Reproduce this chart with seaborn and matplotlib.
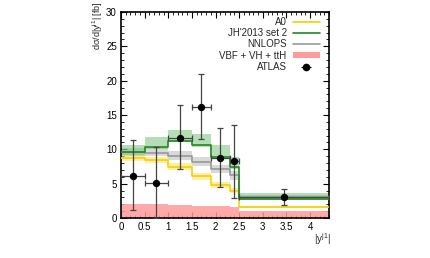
import numpy as np
import pandas as pd
import matplotlib
matplotlib.use("Agg")
import matplotlib.pyplot as plt
import seaborn as sns
from matplotlib.ticker import MultipleLocator, FuncFormatter
from matplotlib.lines import Line2D
from matplotlib.patches import Patch

# ---- data ----
edges = [0.0, 0.5, 1.0, 1.5, 1.9, 2.3, 2.5, 4.4]

a0 = [8.8, 8.4, 7.4, 6.1, 4.8, 4.0, 1.6]
a0_lo = [8.3, 8.0, 7.0, 5.6, 4.4, 3.6, 1.5]
a0_hi = [9.3, 8.9, 8.0, 6.6, 5.3, 4.4, 1.7]

jh = [9.6, 10.3, 11.2, 10.6, 8.9, 7.4, 2.8]
jh_lo = [9.2, 10.0, 11.0, 10.4, 8.7, 7.2, 2.6]
jh_hi = [10.7, 11.8, 12.8, 12.3, 10.6, 8.9, 3.6]

nnlops = [9.6, 9.5, 9.0, 8.2, 7.1, 6.2, 3.0]
nnlops_lo = [9.1, 9.0, 8.4, 7.6, 6.5, 5.6, 2.8]
nnlops_hi = [10.2, 10.2, 9.7, 8.9, 7.7, 6.8, 3.3]

vbf = [2.0, 2.0, 1.9, 1.8, 1.7, 1.6, 1.0]

atlas_x = [0.25, 0.75, 1.25, 1.7, 2.1, 2.4, 3.45]
atlas_xerr = [0.25, 0.25, 0.25, 0.2, 0.2, 0.1, 0.95]
atlas_y = [6.1, 5.1, 11.7, 16.2, 8.7, 8.3, 3.0]
atlas_elo = [5.0, 5.1, 4.6, 4.7, 4.2, 5.4, 1.1]
atlas_ehi = [5.3, 5.2, 4.7, 4.8, 4.4, 5.3, 1.2]

labels = ["A0", "JH'2013 set 2", "NNLOPS", "VBF + VH + ttH", "ATLAS"]

# ---- style ----
sns.set_theme(style="ticks")
plt.rcParams['font.family'] = ['Liberation Sans', 'DejaVu Sans']
plt.rcParams['mathtext.fontset'] = 'custom'
plt.rcParams['mathtext.rm'] = 'Liberation Sans'
plt.rcParams['mathtext.it'] = 'Liberation Sans'

fig = plt.figure(figsize=(4.31, 2.58), dpi=100)
ax = fig.add_axes([121/431, 1-218/258, (329-121)/431, (218-12)/258])

def ext(v):
    return list(v) + [v[-1]]

YEL = "#f5d000"
YEL_B = "#ffe060"
GRN = "#1f8a1f"
GRN_B = "#6fbf6f"
GRY = "#999999"
GRY_B = "#bbbbbb"
RED_B = "#ff9a9a"

# VBF band
ax.fill_between(edges, 0, ext(vbf), step="post", color=RED_B, alpha=0.85, lw=0, zorder=1)
# bands
ax.fill_between(edges, ext(a0_lo), ext(a0_hi), step="post", color=YEL_B, alpha=0.55, lw=0, zorder=2)
ax.fill_between(edges, ext(nnlops_lo), ext(nnlops_hi), step="post", color=GRY_B, alpha=0.55, lw=0, zorder=2)
ax.fill_between(edges, ext(jh_lo), ext(jh_hi), step="post", color=GRN_B, alpha=0.5, lw=0, zorder=2)

df = pd.DataFrame({"edge": edges, "A0": ext(a0), "JH": ext(jh), "NNLOPS": ext(nnlops)})
sns.lineplot(data=df, x="edge", y="A0", drawstyle="steps-post", color=YEL, lw=1.2, ax=ax, zorder=3)
sns.lineplot(data=df, x="edge", y="NNLOPS", drawstyle="steps-post", color=GRY, lw=1.2, ax=ax, zorder=3)
sns.lineplot(data=df, x="edge", y="JH", drawstyle="steps-post", color=GRN, lw=1.2, ax=ax, zorder=3)

# ATLAS data
ax.errorbar(atlas_x, atlas_y, xerr=atlas_xerr, yerr=[atlas_elo, atlas_ehi],
            fmt="none", ecolor="#444444", elinewidth=0.9, capsize=2.2, capthick=0.9, zorder=4)
sns.scatterplot(x=atlas_x, y=atlas_y, color="black", s=28, edgecolor="black", linewidth=0, ax=ax, zorder=5)

ax.set_xlim(0, 4.4)
ax.set_ylim(0, 30)
ax.xaxis.set_major_locator(MultipleLocator(0.5))
ax.xaxis.set_minor_locator(MultipleLocator(0.1))
ax.yaxis.set_major_locator(MultipleLocator(5))
ax.yaxis.set_minor_locator(MultipleLocator(1))
ax.xaxis.set_major_formatter(FuncFormatter(lambda v, p: f"{v:g}"))
ax.tick_params(which="both", direction="in", top=True, right=True, labelsize=7, colors="black", pad=3)
ax.tick_params(which="major", length=4, width=0.8)
ax.tick_params(which="minor", length=2, width=0.6)
for s in ax.spines.values():
    s.set_linewidth(1.2)
    s.set_color("black")
ax.set_xlabel("")
ax.set_ylabel("")

fig.text(98/431, 1-26/258, "dσ/d|y$^{\\mathregular{j1}}$| [fb]", rotation=90, ha="center", va="center", fontsize=6.5)
fig.text(322/431, 1-239/258, "|y$^{\\mathregular{j1}}$|", ha="center", va="center", fontsize=7)

eb = ax.errorbar([], [], xerr=[], fmt="o", color="black", ecolor="black", markersize=4.5,
                 capsize=2, elinewidth=0.8)
handles = [
    Line2D([], [], color=YEL, lw=1.2),
    Line2D([], [], color=GRN, lw=1.2),
    Line2D([], [], color=GRY, lw=1.2),
    Patch(facecolor=RED_B, edgecolor="none"),
    eb,
]
leg = ax.legend(handles, labels, loc="upper right", markerfirst=False, frameon=False,
                fontsize=7, handlelength=2.8, handleheight=0.5, labelspacing=0.12,
                borderaxespad=0.0, borderpad=0.2, handletextpad=0.6,
                bbox_to_anchor=(0.965, 0.985))

fig.savefig("out.png", dpi=100)
